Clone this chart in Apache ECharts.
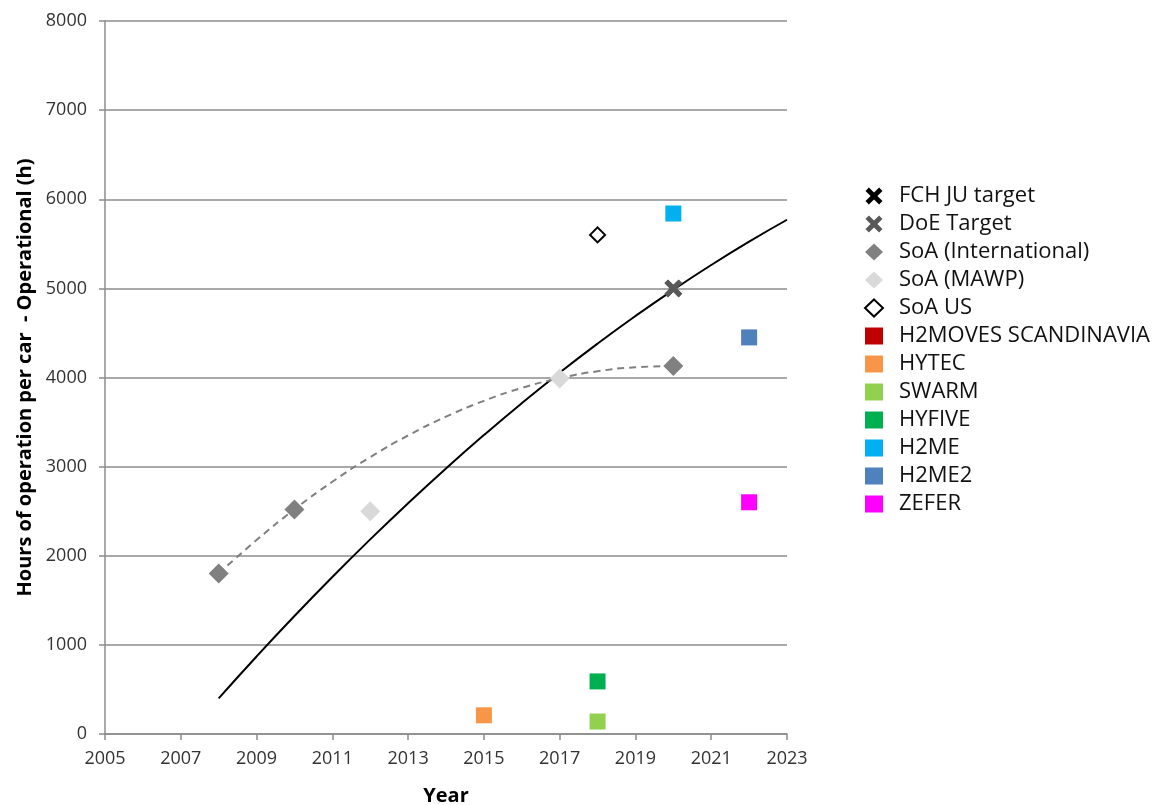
<!DOCTYPE html>
<html><head><meta charset="utf-8">
<script src="https://cdn.jsdelivr.net/npm/echarts@6/dist/echarts.min.js"></script>
<style>html,body{margin:0;padding:0;background:#fff}#c{width:1157px;height:805px}</style>
</head><body><div id="c"></div>
<script>
const yearTicks = [2005, 2007, 2009, 2011, 2013, 2015, 2017, 2019, 2021, 2023];
const fchJuTarget = [[2020, 5000]];
const doeTarget = [[2020, 5000]];
const soaInternational = [[2008, 1800], [2010, 2520], [2020, 4130]];
const soaMawp = [[2012, 2500], [2017, 3990]];
const soaUs = [[2018, 5600]];
const h2movesScandinavia = [];
const hytec = [[2015, 210]];
const swarm = [[2018, 140]];
const hyfive = [[2018, 590]];
const h2me = [[2020, 5840]];
const h2me2 = [[2022, 4450]];
const zefer = [[2022, 2600]];
const trendTarget = [[2008, 400], [2009, 870], [2010, 1324], [2011, 1762], [2012, 2184], [2013, 2590], [2014, 2980], [2015, 3354], [2016, 3712], [2017, 4054], [2018, 4380], [2019, 4690], [2020, 4984], [2021, 5262], [2022, 5524], [2023, 5770]];
const trendSoa = [[2008, 1800], [2009, 2176], [2010, 2520], [2011, 2830], [2012, 3106], [2013, 3350], [2014, 3560], [2015, 3738], [2016, 3882], [2017, 3992], [2018, 4070], [2019, 4115], [2020, 4128]];

const X0 = yearTicks[0];
const shift = arr => arr.map(p => [p[0] - X0, p[1]]);
const crossPath = 'path://M2,0 L5,3 L8,0 L10,2 L7,5 L10,8 L8,10 L5,7 L2,10 L0,8 L3,5 L0,2 Z';
const font = '"Open Sans", "Liberation Sans", sans-serif';

function scatter(name, data, symbol, color, size, extra) {
  return Object.assign({
    name, type: 'scatter', data: shift(data), symbol, symbolSize: size,
    itemStyle: { color, opacity: 1 }, z: 3
  }, extra || {});
}

const legendNames = ['FCH JU target', 'DoE Target', 'SoA (International)', 'SoA (MAWP)', 'SoA US',
  'H2MOVES SCANDINAVIA', 'HYTEC', 'SWARM', 'HYFIVE', 'H2ME', 'H2ME2', 'ZEFER'];

const chart = echarts.init(document.getElementById('c'));
chart.setOption({
  animation: false,
  backgroundColor: '#fff',
  grid: { left: 105, top: 21, right: 370, bottom: 71, outerBoundsMode: 'none', containLabel: false },
  xAxis: {
    type: 'value', min: 0, max: yearTicks[yearTicks.length - 1] - X0, interval: 2,
    name: 'Year', nameLocation: 'middle', nameGap: 52,
    nameTextStyle: { fontFamily: font, fontSize: 20, fontWeight: 'bold', color: '#000' },
    axisLine: { show: true, lineStyle: { color: '#8c8c8c', width: 1.5 } },
    axisTick: { show: true, length: 6, lineStyle: { color: '#8c8c8c', width: 1.5 } },
    axisLabel: { formatter: v => String(v + X0), fontFamily: font, fontSize: 18, color: '#333', margin: 16 },
    splitLine: { show: false }
  },
  yAxis: {
    type: 'value', min: 0, max: 8000, interval: 1000,
    name: 'Hours of operation per car  - Operational (h)', nameLocation: 'middle', nameGap: 68,
    nameTextStyle: { fontFamily: font, fontSize: 20, fontWeight: 'bold', color: '#000' },
    axisLine: { show: true, lineStyle: { color: '#8c8c8c', width: 1.5 } },
    axisTick: { show: true, length: 6, lineStyle: { color: '#8c8c8c', width: 1.5 } },
    axisLabel: { formatter: v => String(v), fontFamily: font, fontSize: 18, color: '#333', margin: 18 },
    splitLine: { show: true, lineStyle: { color: '#8c8c8c', width: 1.5 } }
  },
  legend: {
    data: legendNames, orient: 'vertical', left: 859, top: 180,
    itemWidth: 18, itemHeight: 17, itemGap: 6,
    textStyle: { fontFamily: font, fontSize: 22, color: '#111', lineHeight: 22, padding: [0, 0, 0, 11] }
  },
  series: [
    { name: 'trendTarget', type: 'line', data: shift(trendTarget), smooth: true, showSymbol: false, symbol: 'none',
      lineStyle: { color: '#000', width: 2 }, z: 2, silent: true },
    { name: 'trendSoa', type: 'line', data: shift(trendSoa), smooth: true, showSymbol: false, symbol: 'none',
      lineStyle: { color: '#808080', width: 2, type: [7, 5] }, z: 2, silent: true },
    scatter('FCH JU target', fchJuTarget, crossPath, '#000', 17),
    scatter('DoE Target', doeTarget, crossPath, '#595959', 18, { z: 4 }),
    scatter('SoA (International)', soaInternational, 'diamond', '#808080', 20),
    scatter('SoA (MAWP)', soaMawp, 'diamond', '#d9d9d9', 20),
    scatter('SoA US', soaUs, 'diamond', '#fff', 15, { itemStyle: { color: '#fff', opacity: 1, borderColor: '#000', borderWidth: 2 } }),
    scatter('H2MOVES SCANDINAVIA', h2movesScandinavia, 'rect', '#c00000', 16),
    scatter('HYTEC', hytec, 'rect', '#f79646', 16),
    scatter('SWARM', swarm, 'rect', '#92d050', 16),
    scatter('HYFIVE', hyfive, 'rect', '#00b050', 16),
    scatter('H2ME', h2me, 'rect', '#00b0f0', 16),
    scatter('H2ME2', h2me2, 'rect', '#4f81bd', 16),
    scatter('ZEFER', zefer, 'rect', '#ff00ff', 16)
  ]
});
</script></body></html>
